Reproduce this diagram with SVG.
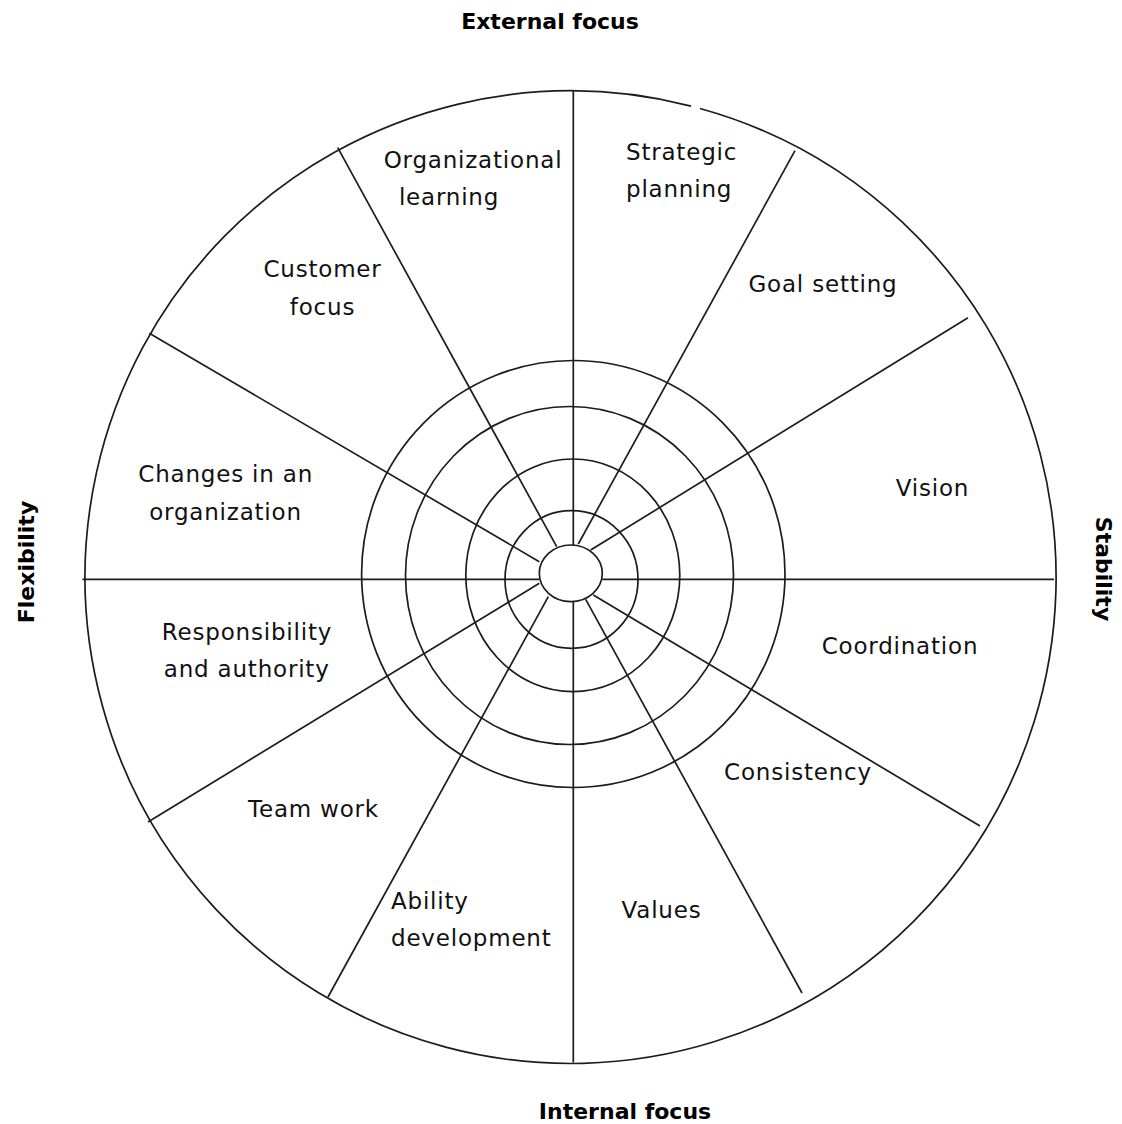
<svg xmlns="http://www.w3.org/2000/svg" width="1122" height="1124" viewBox="0 0 1122 1124">
  <style>
    .ln { fill: none; stroke: #1c1c1c; stroke-width: 1.7; }
    .lbl { font-family: "DejaVu Sans", Verdana, sans-serif; font-size: 23px; letter-spacing: 0.8px; fill: #111; }
    .mid { text-anchor: middle; }
    .axis { font-family: "DejaVu Sans", Verdana, sans-serif; font-size: 22px; font-weight: bold; fill: #000; text-anchor: middle; }
  </style>
  <rect width="1122" height="1124" fill="#fff"/>

  <!-- outer rim (with its small break near the top) -->
  <g id="rim">
    <path class="ln" d="M 691 106.1 A 485.5 486.3 0 1 0 700 108.5"/>
  </g>

  <!-- concentric rings around the hub -->
  <g id="rings">
    <ellipse class="ln" cx="573.3" cy="574" rx="211.7" ry="213.5"/>
    <ellipse class="ln" cx="569.5" cy="575.5" rx="164" ry="169"/>
    <ellipse class="ln" cx="572.8" cy="575.3" rx="107" ry="116.3"/>
    <ellipse class="ln" cx="571.5" cy="579.5" rx="66.5" ry="68.8"/>
    <ellipse class="ln" cx="570.8" cy="573.3" rx="31.5" ry="28.3"/>
  </g>

  <!-- spokes from the hub to the rim -->
  <g id="connectors">
    <line class="ln" x1="573.3" y1="90" x2="573.3" y2="545"/>
    <line class="ln" x1="573.3" y1="601.7" x2="573.3" y2="1062.5"/>
    <line class="ln" x1="82.5" y1="579.3" x2="539.3" y2="579.3"/>
    <line class="ln" x1="602.3" y1="579.3" x2="1054" y2="579.3"/>
    <line class="ln" x1="337.7" y1="147.7" x2="556.7" y2="546.7"/>
    <line class="ln" x1="149.3" y1="333.3" x2="539.3" y2="561.7"/>
    <line class="ln" x1="795" y1="150.7" x2="578.3" y2="544"/>
    <line class="ln" x1="968" y1="317.7" x2="590.7" y2="550"/>
    <line class="ln" x1="148" y1="822" x2="539.3" y2="583.3"/>
    <line class="ln" x1="328" y1="997" x2="548.3" y2="596.7"/>
    <line class="ln" x1="980" y1="826" x2="593.3" y2="595"/>
    <line class="ln" x1="802" y1="993" x2="585.7" y2="599.3"/>
  </g>

  <!-- segment labels -->
  <g id="organizational-learning" class="lbl mid">
    <text x="473" y="168">Organizational</text>
    <text x="449" y="205">learning</text>
  </g>
  <g id="strategic-planning" class="lbl">
    <text x="626" y="160">Strategic</text>
    <text x="626" y="197">planning</text>
  </g>
  <g id="customer-focus" class="lbl mid">
    <text x="322.5" y="277">Customer</text>
    <text x="322.5" y="315">focus</text>
  </g>
  <g id="goal-setting" class="lbl mid">
    <text x="823" y="292">Goal setting</text>
  </g>
  <g id="vision" class="lbl mid">
    <text x="932.5" y="496">Vision</text>
  </g>
  <g id="changes" class="lbl mid">
    <text x="225.7" y="482">Changes in an</text>
    <text x="225.5" y="520">organization</text>
  </g>
  <g id="responsibility" class="lbl mid">
    <text x="247" y="640">Responsibility</text>
    <text x="246.7" y="677">and authority</text>
  </g>
  <g id="coordination" class="lbl mid">
    <text x="900" y="654">Coordination</text>
  </g>
  <g id="consistency" class="lbl mid">
    <text x="798" y="780">Consistency</text>
  </g>
  <g id="team-work" class="lbl mid">
    <text x="313.5" y="817">Team work</text>
  </g>
  <g id="ability-development" class="lbl">
    <text x="391" y="909">Ability</text>
    <text x="391" y="946">development</text>
  </g>
  <g id="values" class="lbl mid">
    <text x="661.5" y="918">Values</text>
  </g>

  <!-- axis labels -->
  <g id="axis-external"><text class="axis" x="550" y="29">External focus</text></g>
  <g id="axis-internal"><text class="axis" x="625" y="1119">Internal focus</text></g>
  <g id="axis-flexibility"><text class="axis" transform="translate(34 562) rotate(-90)">Flexibility</text></g>
  <g id="axis-stability"><text class="axis" transform="translate(1096 569) rotate(90)">Stability</text></g>
</svg>
